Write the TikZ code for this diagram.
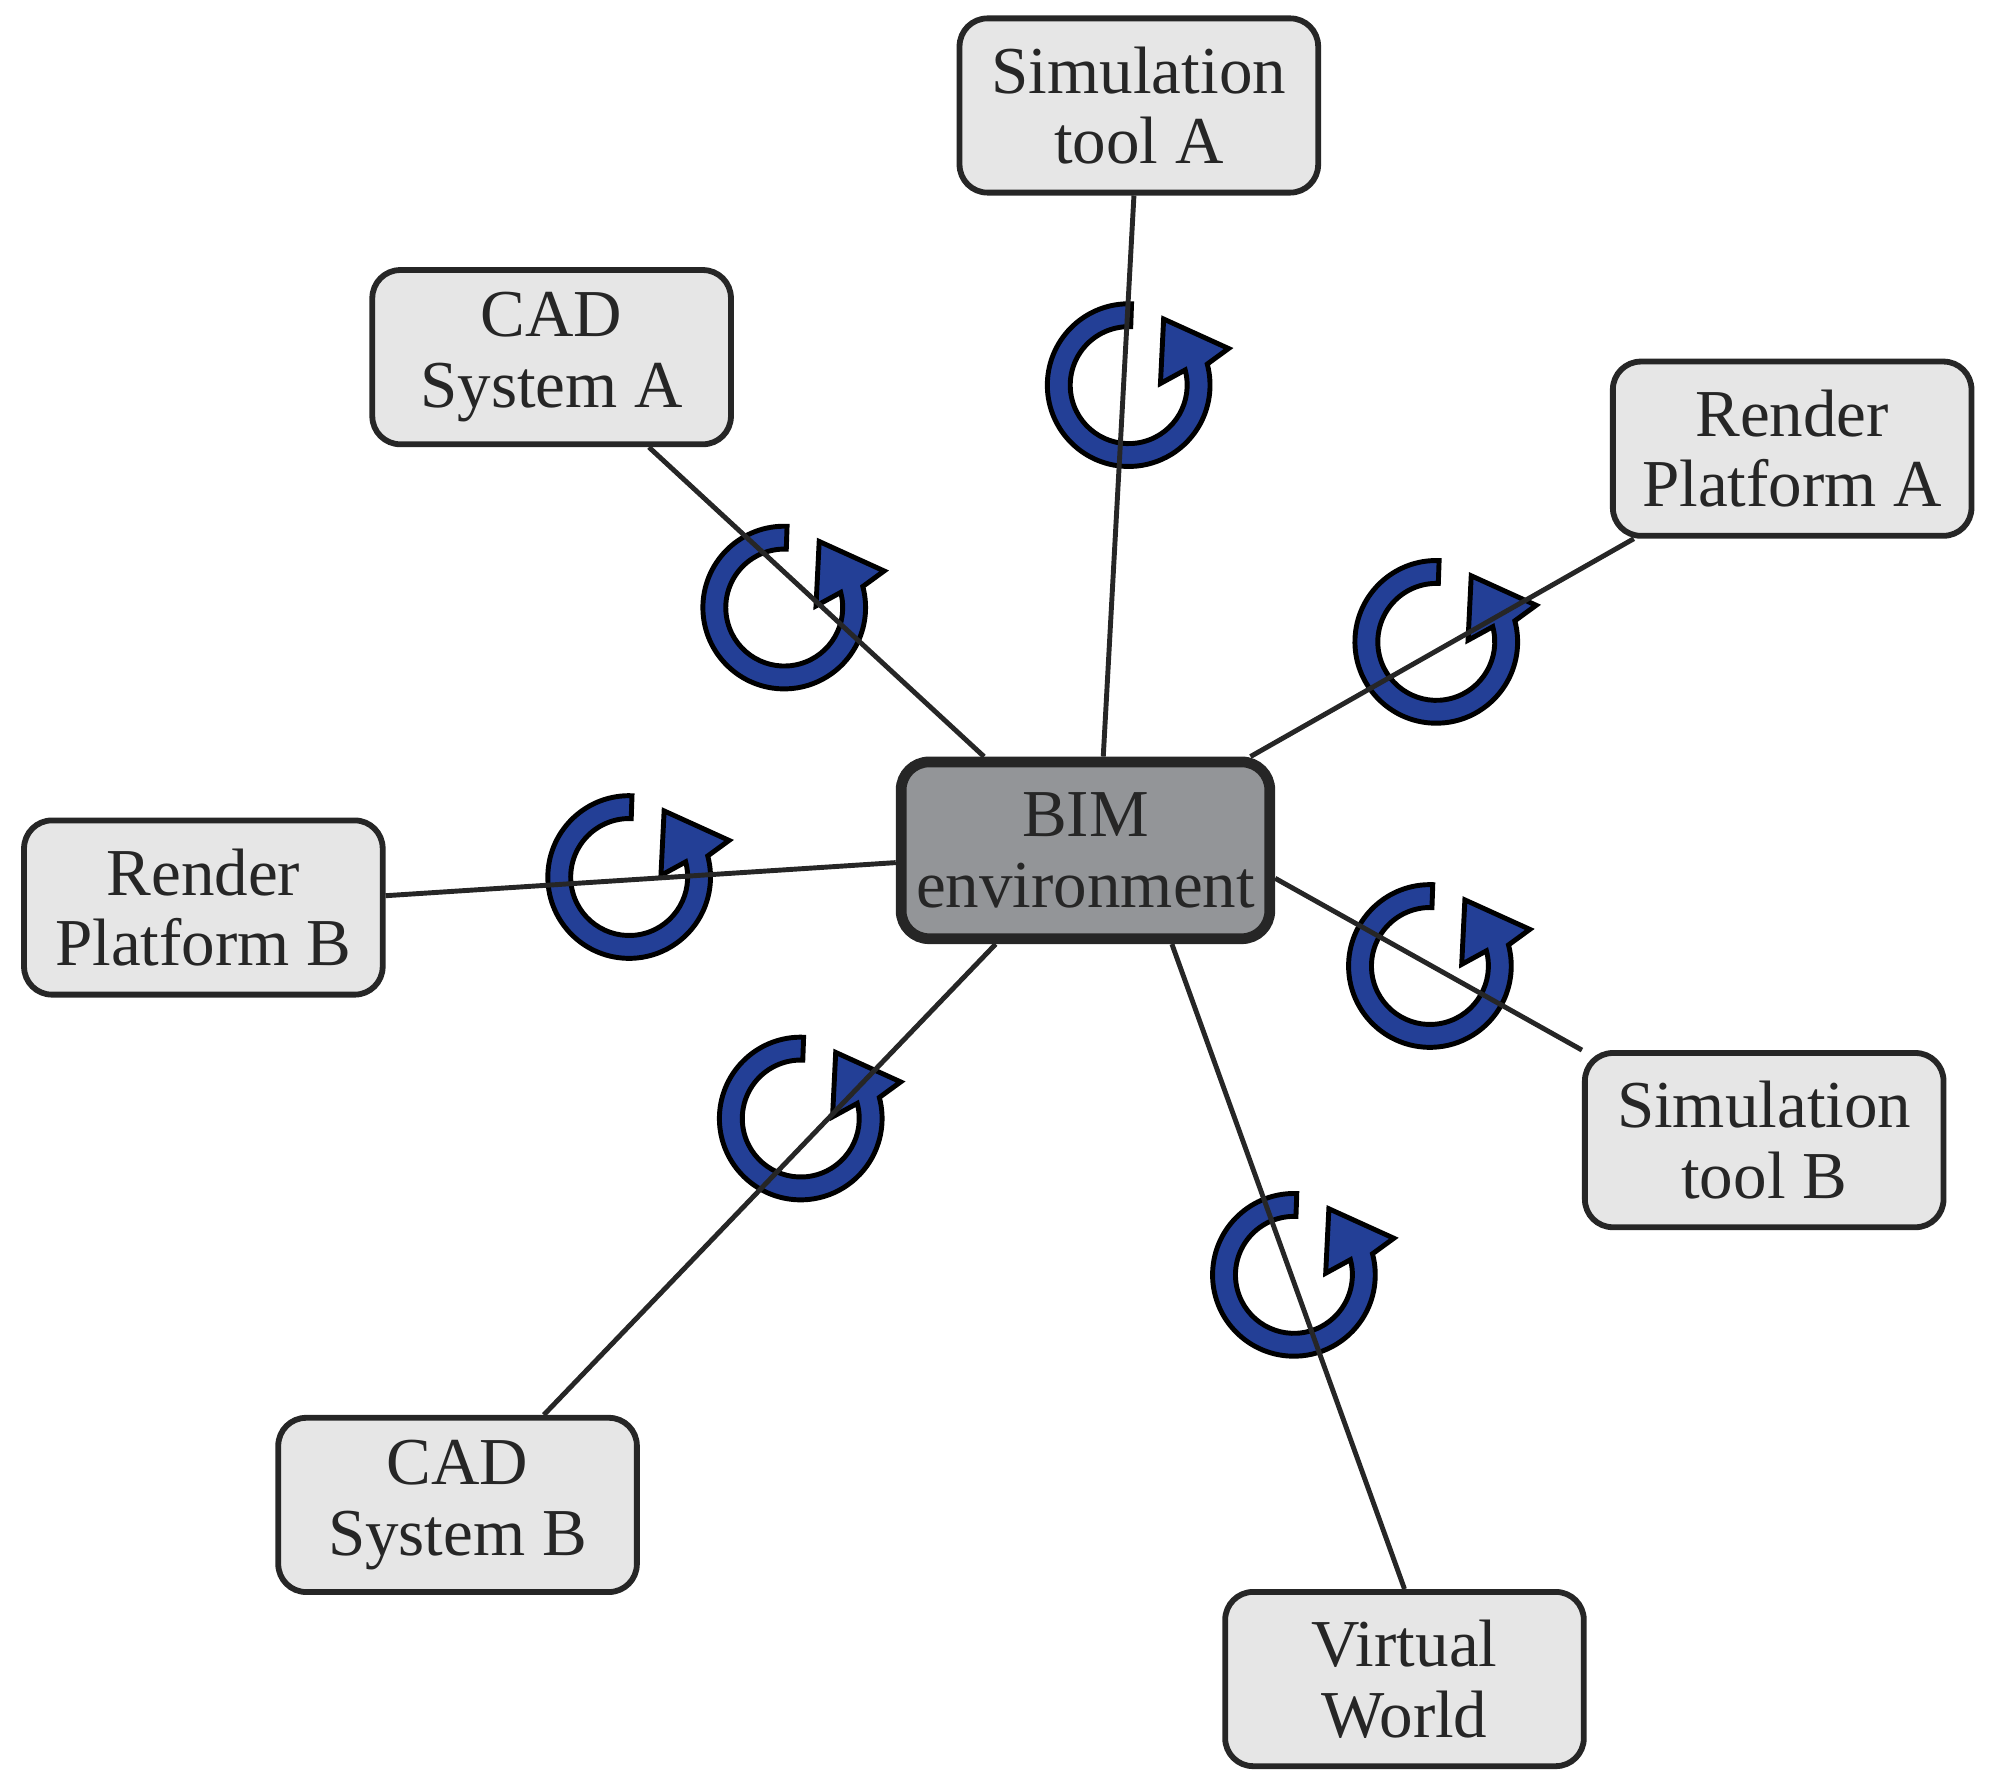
\documentclass[tikz,border=0pt]{standalone}
\usepackage{fontspec}
\setmainfont{Liberation Serif}
\definecolor{boxg}{HTML}{E6E6E6}
\definecolor{bimg}{HTML}{939598}
\definecolor{ablue}{HTML}{233F96}
\begin{document}
\begin{tikzpicture}[x=0.01cm,y=-0.01cm,
  box/.style={draw=black!85,line width=1.3pt,fill=boxg,rounded corners=0.22cm,minimum width=2.82cm,minimum height=1.37cm,align=center,font=\fontsize{15}{15.8}\selectfont,text=black!85},
  link/.style={line width=1.1pt,draw=black!85},
  cyc/.pic={\begin{scope}[yscale=-1]
    \draw[fill=ablue,line width=1.1pt] (88:64) arc[start angle=88,end angle=375,radius=64] -- (78.6,28.8) -- (27.5,52) -- (25,1.3) -- (15:46) arc[start angle=375,end angle=88,radius=46] -- cycle;
  \end{scope}}]
\useasboundingbox (0,0) rectangle (1568,1409);
\foreach \p in {(888,303),(617,478),(1130,505),(495,690),(1125,760),(630,880),(1018,1003)}
  \pic at \p {cyc};
\node[box] (sa) at (896,83) {Simulation\\tool A};
\node[box] (ca) at (434,281) {CAD\\System A};
\node[box] (ra) at (1410,353) {Render\\Platform A};
\node[box] (rb) at (160,714) {Render\\Platform B};
\node[box] (sb) at (1388,897) {Simulation\\tool B};
\node[box] (cb) at (360,1184) {CAD\\System B};
\node[box] (vw) at (1105,1321) {Virtual\\World};
\node[box,fill=bimg,line width=2.4pt,minimum width=2.86cm,minimum height=1.39cm] (bim) at (854,669) {BIM\\environment};
\draw[link] (bim.north) ++(14,0) coordinate (b1) -- (sa);
\draw[link] (bim) -- (ca);
\draw[link] (bim) -- (ra);
\draw[link] (bim) -- (rb);
\draw[link] (bim.east) ++(0,22) coordinate (b2) -- (sb.north west) ++(20,0);
\draw[link] (bim) -- (cb);
\draw[link] (bim.south) ++(68,0) coordinate (b3) -- (vw.north);
\end{tikzpicture}
\end{document}
